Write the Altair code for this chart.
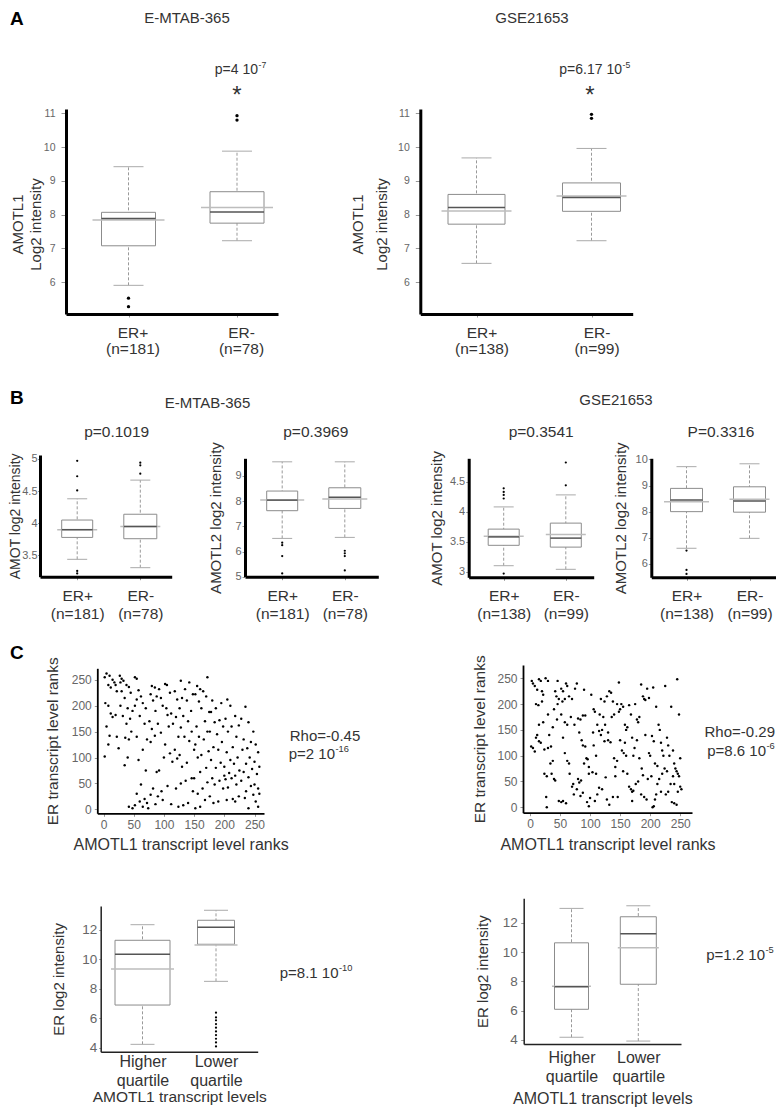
import altair as alt
import pandas as pd

W, H = 768, 1099
FONT = "Liberation Sans"


def px(v):
    return v - 8


# ------------------------------------------------------------------ data
# Panel A  AMOTL1 log2 intensity by ER status
a1_groups = ["ER+|(n=181)", "ER-|(n=78)"]
a1_low = [5.91, 7.23]
a1_q1 = [7.08, 7.75]
a1_median = [7.89, 8.08]
a1_q3 = [8.07, 8.68]
a1_high = [9.42, 9.88]
a1_mean = [7.84, 8.21]
a1_out_group = [1, 1, 2, 2]
a1_out_value = [5.53, 5.28, 10.93, 10.80]

a2_groups = ["ER+|(n=138)", "ER-|(n=99)"]
a2_low = [6.56, 7.23]
a2_q1 = [7.72, 8.10]
a2_median = [8.21, 8.51]
a2_q3 = [8.60, 8.94]
a2_high = [9.68, 9.96]
a2_mean = [8.11, 8.55]
a2_out_group = [2, 2]
a2_out_value = [10.97, 10.85]

# Panel B
b1_groups = ["ER+|(n=181)", "ER-|(n=78)"]
b1_low = [3.44, 3.31]
b1_q1 = [3.78, 3.76]
b1_median = [3.90, 3.95]
b1_q3 = [4.05, 4.14]
b1_high = [4.38, 4.67]
b1_mean = [3.90, 3.95]
b1_out_group = [1, 1, 1, 1, 1, 2, 2, 2]
b1_out_value = [4.97, 4.73, 4.51, 3.26, 3.22, 4.94, 4.90, 4.77]

b2_groups = ["ER+|(n=181)", "ER-|(n=78)"]
b2_low = [6.52, 6.56]
b2_q1 = [7.62, 7.71]
b2_median = [8.04, 8.15]
b2_q3 = [8.40, 8.53]
b2_high = [9.56, 9.56]
b2_mean = [8.04, 8.08]
b2_out_group = [1, 1, 1, 1, 2, 2, 2, 2]
b2_out_value = [6.35, 6.25, 5.82, 5.13, 6.03, 5.93, 5.82, 5.25]

b3_groups = ["ER+|(n=138)", "ER-|(n=99)"]
b3_low = [3.10, 3.04]
b3_q1 = [3.44, 3.41]
b3_median = [3.58, 3.56]
b3_q3 = [3.71, 3.81]
b3_high = [4.08, 4.28]
b3_mean = [3.59, 3.62]
b3_out_group = [1, 1, 1, 1, 1, 2, 2]
b3_out_value = [4.39, 4.33, 4.28, 4.22, 2.97, 4.82, 4.44]

b4_groups = ["ER+|(n=138)", "ER-|(n=99)"]
b4_low = [6.60, 6.98]
b4_q1 = [8.00, 7.98]
b4_median = [8.45, 8.41]
b4_q3 = [8.89, 8.95]
b4_high = [9.72, 9.83]
b4_mean = [8.38, 8.47]
b4_out_group = [1, 1, 1]
b4_out_value = [6.51, 5.77, 5.62]

# Panel C boxes
c1_groups = ["Higher|quartile", "Lower|quartile"]
c1_low = [4.22, 8.50]
c1_q1 = [6.89, 11.02]
c1_median = [10.34, 12.18]
c1_q3 = [11.29, 12.65]
c1_high = [12.35, 13.33]
c1_mean = [9.34, 10.97]
c1_out_group = [2, 2, 2, 2, 2, 2, 2, 2, 2, 2]
c1_out_value = [6.37, 6.05, 5.85, 5.60, 5.35, 5.10, 4.85, 4.60, 4.35, 4.08]

c2_groups = ["Higher|quartile", "Lower|quartile"]
c2_low = [4.18, 3.92]
c2_q1 = [6.09, 7.80]
c2_median = [7.63, 11.25]
c2_q3 = [10.63, 12.41]
c2_high = [12.98, 13.16]
c2_mean = [7.67, 10.29]
c2_out_group = []
c2_out_value = []

# Panel C scatter: (AMOTL1 rank, ER rank)
s1_points = [
    (2, 255), (5, 262), (10, 258), (15, 250), (18, 245), (8, 240), (12, 235), (20, 240), (22, 228),
    (3, 205), (8, 200), (12, 185), (15, 178), (20, 182), (5, 160), (10, 142), (22, 140), (8, 125),
    (25, 118), (2, 102),
    (27, 258), (30, 252), (33, 248), (28, 245), (38, 240), (42, 236), (30, 228), (45, 225), (35, 215),
    (28, 200), (40, 195), (48, 190), (32, 180), (44, 175), (38, 165), (46, 150), (36, 138), (42, 135),
    (40, 100), (35, 85), (42, 5), (48, 2),
    (52, 255), (55, 252), (58, 230), (62, 218), (55, 212), (65, 205), (52, 200), (70, 195), (60, 180),
    (68, 165), (55, 140), (72, 135), (65, 115), (58, 95), (70, 75), (62, 48), (55, 30), (68, 20),
    (60, 15), (72, 12), (52, 8), (65, 5), (74, 2),
    (80, 238), (85, 235), (92, 232), (78, 222), (88, 218), (95, 215), (82, 210), (98, 200), (86, 190),
    (76, 170), (90, 165), (80, 155), (95, 148), (85, 142), (78, 130), (92, 75), (88, 72), (82, 40),
    (96, 35), (78, 28), (90, 25), (98, 18), (86, 10),
    (102, 242), (105, 240), (118, 228), (110, 225), (122, 212), (104, 195), (112, 185), (106, 182),
    (120, 178), (115, 165), (108, 160), (124, 140), (102, 125), (118, 115), (110, 108), (100, 100),
    (122, 98), (114, 92), (106, 45), (120, 40), (112, 10), (124, 5),
    (128, 248), (142, 245), (135, 232), (148, 222), (130, 215), (138, 210), (126, 195), (145, 190),
    (132, 180), (140, 170), (128, 158), (146, 150), (134, 140), (142, 132), (150, 115), (126, 105),
    (138, 90), (130, 82), (146, 60), (136, 55), (128, 50), (148, 35), (140, 12), (132, 8),
    (155, 238), (160, 232), (165, 228), (152, 222), (170, 218), (158, 208), (162, 195), (175, 188),
    (168, 170), (154, 160), (172, 150), (158, 140), (166, 135), (152, 125), (174, 112), (162, 105),
    (156, 100), (170, 80), (160, 72), (150, 60), (172, 52), (164, 40), (156, 30), (168, 18), (160, 5),
    (152, 2), (172, 255),
    (180, 210), (195, 205), (186, 195), (178, 188), (192, 172), (184, 168), (198, 160), (176, 150),
    (188, 145), (196, 130), (182, 120), (190, 115), (178, 95), (194, 90), (186, 80), (200, 65),
    (180, 60), (192, 55), (184, 48), (198, 40), (176, 25), (190, 15), (182, 12),
    (205, 212), (210, 200), (218, 180), (202, 175), (224, 162), (212, 160), (206, 150), (220, 140),
    (214, 120), (204, 110), (222, 100), (210, 95), (216, 88), (200, 82), (225, 75), (208, 70),
    (218, 65), (212, 60), (202, 58), (220, 48), (206, 42), (224, 25), (214, 20), (204, 18), (218, 15),
    (235, 198), (228, 175), (240, 168), (248, 150), (232, 135), (244, 130), (252, 125), (238, 118),
    (230, 115), (256, 110), (242, 100), (250, 92), (236, 88), (258, 82), (246, 78), (232, 72),
    (254, 68), (240, 62), (228, 55), (250, 48), (244, 45), (256, 40), (236, 35), (258, 30), (248, 28),
    (234, 22), (252, 15), (256, 5), (240, 2),
]

s2_points = [
    (3, 245), (5, 240), (8, 235), (12, 228), (15, 248), (18, 245), (20, 225), (22, 218), (10, 200),
    (14, 198), (20, 205), (2, 118), (5, 115), (8, 108), (10, 135), (12, 140), (15, 128), (18, 125),
    (22, 165), (24, 112), (15, 160), (24, 65),
    (26, 250), (30, 245), (28, 60), (27, 20), (28, 0), (32, 140), (30, 115), (35, 118), (38, 155),
    (40, 190), (42, 225), (44, 215), (46, 245), (34, 85), (36, 65), (40, 55), (42, 52), (38, 90),
    (48, 210), (45, 170), (48, 12), (46, 200), (30, 180),
    (52, 230), (55, 225), (58, 210), (54, 205), (60, 240), (62, 235), (65, 215), (52, 180), (58, 165),
    (62, 160), (68, 175), (55, 135), (58, 105), (62, 90), (65, 85), (52, 10), (55, 12), (60, 8),
    (66, 65), (70, 40), (72, 45), (74, 160), (70, 210), (75, 230), (73, 25),
    (78, 240), (80, 172), (84, 170), (88, 178), (92, 178), (86, 130), (88, 120), (92, 118), (80, 55),
    (82, 48), (85, 52), (90, 85), (94, 95), (96, 93), (98, 78), (78, 35), (84, 22), (88, 28), (95, 10),
    (98, 2), (100, 18), (82, 145), (90, 228), (98, 65),
    (102, 218), (108, 185), (112, 160), (115, 148), (118, 140), (105, 145), (106, 120), (110, 65),
    (104, 68), (115, 38), (120, 35), (112, 25), (108, 12), (122, 175), (125, 160), (118, 210),
    (124, 205), (110, 100), (116, 180), (120, 150), (106, 190), (124, 128),
    (128, 215), (132, 225), (135, 222), (138, 205), (140, 180), (130, 130), (134, 126), (145, 200),
    (148, 185), (150, 190), (142, 78), (140, 95), (145, 90), (128, 15), (132, 5), (138, 20), (146, 20),
    (148, 242), (136, 175), (130, 145), (142, 60), (150, 130), (126, 58),
    (152, 200), (155, 195), (158, 160), (160, 150), (162, 155), (165, 198), (168, 180), (170, 135),
    (153, 110), (156, 105), (160, 100), (165, 40), (168, 35), (170, 30), (172, 32), (155, 70),
    (162, 65), (172, 100), (174, 115), (158, 125), (175, 200), (170, 12),
    (178, 170), (180, 165), (182, 175), (185, 238), (188, 215), (190, 210), (192, 208), (195, 230),
    (198, 212), (176, 45), (180, 50), (185, 25), (190, 20), (194, 15), (196, 55), (182, 95), (186, 75),
    (198, 105), (192, 140), (178, 130), (188, 62), (200, 100),
    (202, 60), (204, 0), (206, 2), (208, 15), (210, 25), (212, 80), (205, 232), (210, 195), (214, 160),
    (216, 150), (218, 125), (220, 110), (206, 128), (203, 138), (222, 100), (224, 75), (212, 45),
    (218, 30), (208, 85), (215, 55), (225, 235), (220, 65),
    (228, 135), (230, 120), (232, 100), (235, 195), (238, 110), (240, 85), (242, 75), (244, 70),
    (246, 65), (248, 60), (250, 40), (252, 35), (236, 10), (240, 8), (244, 5), (245, 248), (248, 180),
    (230, 30), (234, 45), (240, 45), (228, 70), (250, 95), (226, 25), (238, 60), (246, 30),
]

# annotation texts (mantissa part, exponent part)
panel_letters = ["A", "B", "C"]
dataset_names = ["E-MTAB-365", "GSE21653"]
a_pvalues = [("p=4 10", "-7"), ("p=6.17 10", "-5")]
b_pvalues = ["p=0.1019", "p=0.3969", "p=0.3541", "P=0.3316"]
c_rho = ["Rho=-0.45", "Rho=-0.29"]
c_rho_p = [("p=2 10", "-16"), ("p=8.6 10", "-6")]
c_box_p = [("p=8.1 10", "-10"), ("p=1.2 10", "-5")]


# ------------------------------------------------------------------ helpers
def y_axis(g):
    kw = dict(orient="left", offset=-px(g["xl"]), values=g["yvals"], format="~r", grid=False,
              domainColor=g.get("dc", "black"), domainWidth=g["dw"], ticks=True,
              tickSize=g["yts"], tickColor="#999", labelPadding=g["ylp"], labelFont=FONT,
              labelFontSize=g["yfs"], labelColor="#666", labelFlush=False, labelOverlap=False,
              title=g["ytitle"], titleFont=FONT, titleFontSize=g.get("ytfs", 15),
              titleFontWeight="normal", titleColor="#333", titlePadding=g["ytp"])
    if "ytlh" in g:
        kw["titleLineHeight"] = g["ytlh"]
    if "ytY" in g:
        kw["titleY"] = px(g["ytY"])
    return alt.Axis(**kw)


def x_axis(g, values, label_expr=None):
    kw = dict(orient="bottom", offset=px(g["yb"]) - H, values=values, grid=False,
              domainColor=g.get("dc", "black"), domainWidth=g["dw"], ticks=g["xticks"],
              tickSize=g["xts"], tickColor="#999", labelPadding=g["xlp"], labelFont=FONT,
              labelFontSize=g["xfs"], labelColor=g.get("xlc", "#333"), labelAngle=0,
              labelFlush=False, labelOverlap=False)
    if label_expr is not None:
        kw["labelExpr"] = label_expr
        kw["labelLineHeight"] = g["xlh"]
    if "xoff" in g:
        kw["labelOffset"] = g["xoff"]
    if "xtitle" in g:
        kw.update(title=g["xtitle"], titleFont=FONT, titleFontSize=g.get("xtfs", 16),
                  titleFontWeight="normal", titleColor="#333", titlePadding=g["xtp"])
    else:
        kw["title"] = None
    return alt.Axis(**kw)


def box_panel(groups, low, q1, med, q3, high, mean, out_g, out_v, g):
    c1, c2 = g["centers"]
    step = c2 - c1
    xdom = [1 - (c1 - g["xl"]) / step, 2 + (g["xr"] - c2) / step]
    xs = alt.Scale(domain=xdom, range=[px(g["xl"]), px(g["xr"])], nice=False, zero=False)
    ys = alt.Scale(domain=g["ydom"], range=[px(g["yb"]), px(g["yt"])], nice=False, zero=False)
    idx = list(range(1, len(groups) + 1))
    df = pd.DataFrame({"idx": idx, "low": low, "q1": q1, "med": med, "q3": q3,
                       "high": high, "mean": mean})
    df["b0"] = [i - w / 2 / step for i, w in zip(idx, g["box_w"])]
    df["b1"] = [i + w / 2 / step for i, w in zip(idx, g["box_w"])]
    df["m0"] = [i - w / 2 / step for i, w in zip(idx, g["mean_w"])]
    df["m1"] = [i + w / 2 / step for i, w in zip(idx, g["mean_w"])]
    caps = pd.DataFrame({"k0": [i - g["cap_w"] / 2 / step for i in idx] * 2,
                         "k1": [i + g["cap_w"] / 2 / step for i in idx] * 2,
                         "v": list(low) + list(high)})
    outs = pd.DataFrame({"idx": out_g, "v": out_v})
    arr = "[" + ",".join("'" + s + "'" for s in groups) + "]"
    lexpr = "split(" + arr + "[datum.value - 1], '|')"

    def X(f):
        return alt.X(f, type="quantitative", scale=xs, axis=None)

    def Y(f):
        return alt.Y(f, type="quantitative", scale=ys, axis=None)

    layers = [
        alt.Chart(df).mark_rule(color="#999", strokeWidth=1, strokeDash=[3, 2]).encode(
            x=alt.X("idx:Q", scale=xs, axis=x_axis(g, idx, lexpr)),
            y=alt.Y("low:Q", scale=ys, axis=y_axis(g)), y2="high:Q"),
        alt.Chart(caps).mark_rule(color="#aaa", strokeWidth=1).encode(x=X("k0"), x2="k1", y=Y("v")),
        alt.Chart(df).mark_rect(fill="white", stroke="#8c8c8c", strokeWidth=1).encode(
            x=X("b0"), x2="b1", y=Y("q1"), y2="q3"),
        alt.Chart(df).mark_rule(color="#bdbdbd", strokeWidth=1.5).encode(x=X("m0"), x2="m1", y=Y("mean")),
        alt.Chart(df).mark_rule(color="#555", strokeWidth=1.5).encode(x=X("b0"), x2="b1", y=Y("med")),
    ]
    if len(out_v):
        layers.append(alt.Chart(outs).mark_circle(color="black", opacity=1, size=g["osize"]).encode(
            x=X("idx"), y=Y("v")))
    return layers


def scatter_panel(points, g):
    xs = alt.Scale(domain=g["xdom"], range=[px(g["xl"]), px(g["xr"])], nice=False, zero=False)
    ys = alt.Scale(domain=g["ydom"], range=[px(g["yb"]), px(g["yt"])], nice=False, zero=False)
    df = pd.DataFrame(points, columns=["amotl1", "er"])
    return [alt.Chart(df).mark_circle(color="black", opacity=1, size=6).encode(
        x=alt.X("amotl1:Q", scale=xs, axis=x_axis(g, [0, 50, 100, 150, 200, 250])),
        y=alt.Y("er:Q", scale=ys, axis=y_axis(g)))]


def note(s, x, y, size=15, weight="normal", align="center", baseline="middle", color="#333"):
    return alt.Chart(pd.DataFrame({"t": [s]})).mark_text(
        font=FONT, fontSize=size, fontWeight=weight, align=align, baseline=baseline, color=color
    ).encode(x=alt.value(px(x)), y=alt.value(px(y)), text="t:N")


def sci_note(parts, x_split, y, size=15):
    base, expo = parts
    return [note(base, x_split, y, size=size, align="right"),
            note(expo, x_split + 0.5, y - size * 0.36, size=size * 0.62, align="left")]


# ------------------------------------------------------------------ geometry (pixels in page)
gA1 = dict(xl=66, xr=278, yb=314, yt=109, centers=[128.5, 237], ydom=[5.062, 11.127],
           yvals=[6, 7, 8, 9, 10, 11], box_w=[54, 54], mean_w=[72, 72], cap_w=30, dw=3,
           yts=5, ylp=6, yfs=10.5, ytitle=["AMOTL1", "Log2 intensity"], ytp=0, ytlh=18, ytY=224,
           xticks=True, xts=3, xlp=8.4, xfs=15.5, xlh=16, xoff=4, osize=11)
gA2 = dict(gA1, xl=420.3, xr=632.7, centers=[476.5, 591.5], box_w=[57, 58], mean_w=[70, 70],
           ytp=8, ytlh=24, xoff=5)
gB1 = dict(xl=40, xr=171.7, yb=576.7, yt=455, centers=[77.2, 140.3], ydom=[3.17, 5.06],
           yvals=[3.5, 4, 4.5, 5], box_w=[31, 33], mean_w=[40, 40], cap_w=20, dw=3,
           yts=2.5, ylp=0.5, yfs=11, ytitle="AMOT log2 intensity", ytfs=14, ytp=-1,
           xticks=True, xts=3, xlp=8.5, xfs=15.5, xlh=18, osize=5)
gB2 = dict(gB1, xl=245, xr=378.3, yb=576.7, yt=458.3, centers=[282.2, 344.8], ydom=[5.0, 9.70],
           yvals=[5, 6, 7, 8, 9], box_w=[31, 32], mean_w=[44, 45], ytitle="AMOTL2 log2 intensity",
           yts=3, ylp=1, ytfs=15, ytp=11)
gB3 = dict(gB1, xl=468.7, xr=593.7, yb=577.3, yt=458.3, centers=[503.7, 565.8], ydom=[2.907, 4.89],
           yvals=[3, 3.5, 4, 4.5], box_w=[31, 31], mean_w=[40, 40], ytitle="AMOT log2 intensity",
           yts=3, ylp=1, ytfs=15, ytp=4.7)
gB4 = dict(gB1, xl=651.3, xr=776, yb=577.3, yt=458.3, centers=[686.5, 749.5], ydom=[5.49, 10.04],
           yvals=[6, 7, 8, 9, 10], box_w=[32, 32], mean_w=[45, 40], ytitle="AMOTL2 log2 intensity",
           yts=3, ylp=1, ytfs=15, ytp=6.3)
gS1 = dict(xl=97.3, xr=264, yb=813.3, yt=668.3, xdom=[-10.3, 265.7], ydom=[-7.7, 272.2],
           yvals=[0, 50, 100, 150, 200, 250], dw=1.8, yts=3, ylp=3, yfs=12,
           ytitle="ER transcript level ranks", ytfs=15.5, ytp=11,
           xticks=True, xts=3, xlp=3.5, xfs=12, xlc="#666",
           xtitle="AMOTL1 transcript level ranks", xtp=6)
gS2 = dict(gS1, xl=523, xr=692, yb=812.7, yt=665, xdom=[-11.6, 269.6], ydom=[-10.5, 275.8],
           ytp=9, xlp=2.3, xtp=7)
gC1 = dict(xl=100.7, xr=257.7, yb=1051.7, yt=906, centers=[142.5, 216], ydom=[3.72, 13.62],
           yvals=[4, 6, 8, 10, 12], box_w=[55, 37], mean_w=[63, 43], cap_w=24, dw=1.5, dc="#222",
           yts=2, ylp=2, yfs=13.5, ytitle="ER log2 intensity", ytp=14.7,
           xticks=False, xts=0, xlp=1.8, xfs=16, xlh=19,
           xtitle="AMOTL1 transcript levels", xtfs=15.5, xtp=0.5, osize=5)
gC2 = dict(gC1, xl=523.7, xr=681, yb=1044, yt=898.3, centers=[571.5, 638.3], ydom=[3.72, 13.67],
           box_w=[34, 36], mean_w=[39, 41], yts=3, ylp=3.5, ytp=11.5, xlp=5.8, xlh=18.3, xtfs=16, xtp=6)

layers = []
layers += box_panel(a1_groups, a1_low, a1_q1, a1_median, a1_q3, a1_high, a1_mean, a1_out_group, a1_out_value, gA1)
layers += box_panel(a2_groups, a2_low, a2_q1, a2_median, a2_q3, a2_high, a2_mean, a2_out_group, a2_out_value, gA2)
layers += box_panel(b1_groups, b1_low, b1_q1, b1_median, b1_q3, b1_high, b1_mean, b1_out_group, b1_out_value, gB1)
layers += box_panel(b2_groups, b2_low, b2_q1, b2_median, b2_q3, b2_high, b2_mean, b2_out_group, b2_out_value, gB2)
layers += box_panel(b3_groups, b3_low, b3_q1, b3_median, b3_q3, b3_high, b3_mean, b3_out_group, b3_out_value, gB3)
layers += box_panel(b4_groups, b4_low, b4_q1, b4_median, b4_q3, b4_high, b4_mean, b4_out_group, b4_out_value, gB4)
layers += scatter_panel(s1_points, gS1)
layers += scatter_panel(s2_points, gS2)
layers += box_panel(c1_groups, c1_low, c1_q1, c1_median, c1_q3, c1_high, c1_mean, c1_out_group, c1_out_value, gC1)
layers += box_panel(c2_groups, c2_low, c2_q1, c2_median, c2_q3, c2_high, c2_mean, c2_out_group, c2_out_value, gC2)

# annotations
layers += [
    note(panel_letters[0], 10, 18.5, size=19, weight="bold", align="left", color="black"),
    note(panel_letters[1], 10, 398, size=19, weight="bold", align="left", color="black"),
    note(panel_letters[2], 10, 653, size=19, weight="bold", align="left", color="black"),
    note(dataset_names[0], 187, 17.5),
    note(dataset_names[1], 532, 17.5),
    note(dataset_names[0], 207.5, 403),
    note(dataset_names[1], 616, 400),
    note("*", 237, 102.5, size=24, baseline="alphabetic"),
    note("*", 590, 102.5, size=24, baseline="alphabetic"),
    note(b_pvalues[0], 116.7, 432, size=15.5),
    note(b_pvalues[1], 315.8, 432, size=15.5),
    note(b_pvalues[2], 541.2, 432, size=15.5),
    note(b_pvalues[3], 721, 432, size=15.5),
    note(c_rho[0], 325, 735.5),
    note(c_rho[1], 775, 731.5, align="right"),
]
layers += sci_note(a_pvalues[0], 258, 70, size=14)
layers += sci_note(a_pvalues[1], 622, 70, size=14)
layers += sci_note(c_rho_p[0], 335, 754)
layers += sci_note(c_rho_p[1], 766, 751)
layers += sci_note(c_box_p[0], 338.5, 973)
layers += sci_note(c_box_p[1], 765, 955)

chart = alt.layer(*layers).resolve_scale(x="independent", y="independent").resolve_axis(
    x="independent", y="independent"
).properties(
    width=W, height=H, padding=0, background="white",
    autosize=alt.AutoSizeParams(type="none"),
).configure_view(stroke=None)

chart.save("out.html", embed_options={"renderer": "svg", "actions": False})
